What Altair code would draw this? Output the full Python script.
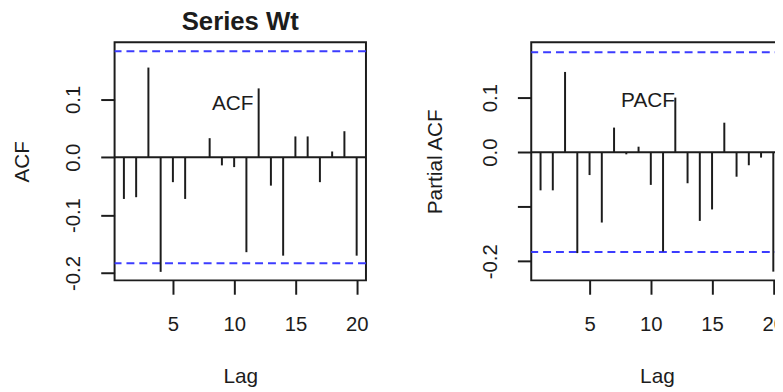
import altair as alt
import pandas as pd

# ---- data ----
lags = list(range(1, 21))
acf_vals = [-0.072, -0.069, 0.155, -0.198, -0.043, -0.072, 0.000, 0.033, -0.014, -0.017,
            -0.164, 0.119, -0.049, -0.170, 0.036, 0.036, -0.043, 0.010, 0.045, -0.170]
pacf_vals = [-0.070, -0.070, 0.147, -0.185, -0.042, -0.129, 0.045, -0.004, 0.010, -0.060,
             -0.182, 0.100, -0.057, -0.126, -0.105, 0.054, -0.045, -0.024, -0.010, -0.219]
ci_bound = 0.183
x_ticks = [5, 10, 15, 20]
y_ticks = [-0.2, -0.1, 0.0, 0.1]

FONT = "Liberation Sans"
INK = "#1c1c1c"
BLUE = "#3c3cff"
LW = 2


def panel(vals, ylab, note, note_x, note_y, ydom, title_x, hide_m01):
    bars_df = pd.DataFrame({"lag": lags, "val": vals, "base": [0.0] * len(lags)})
    zero_df = pd.DataFrame({"val": [0.0]})
    ci_df = pd.DataFrame({"val": [ci_bound, -ci_bound]})
    note_df = pd.DataFrame({"lag": [note_x], "val": [note_y], "label": [note]})

    xs = alt.Scale(domain=[0.24, 20.76], nice=False, zero=False)
    ys = alt.Scale(domain=ydom, nice=False, zero=False)

    fmt = "(datum.value < -1e-9 ? '-' : '') + format(abs(datum.value), '.1f')"
    if hide_m01:
        fmt = "abs(datum.value + 0.1) < 1e-6 ? '' : " + fmt

    xax = alt.Axis(values=x_ticks, title="Lag", labelPadding=21, labelFlush=False,
                   labelOverlap=False, titleBaseline="alphabetic", titleY=103)
    yax = alt.Axis(values=y_ticks, title=ylab, labelAngle=270, labelAlign="center",
                   labelBaseline="bottom", labelPadding=17, labelExpr=fmt,
                   labelOverlap=False, labelFlush=False,
                   titleAngle=270, titleBaseline="bottom", titleX=title_x)

    bars = alt.Chart(bars_df).mark_rule(color=INK, strokeWidth=LW).encode(
        x=alt.X("lag:Q", scale=xs, axis=xax),
        y=alt.Y("val:Q", scale=ys, axis=yax),
        y2="base:Q",
    )
    zero = alt.Chart(zero_df).mark_rule(color=INK, strokeWidth=LW).encode(
        y=alt.Y("val:Q")
    )
    ci = alt.Chart(ci_df).mark_rule(color=BLUE, strokeWidth=LW, strokeDash=[8, 5]).encode(
        y=alt.Y("val:Q")
    )
    txt = alt.Chart(note_df).mark_text(font=FONT, fontSize=21, color=INK, align="center",
                                       baseline="alphabetic").encode(
        x=alt.X("lag:Q"), y=alt.Y("val:Q"), text="label:N"
    )
    return alt.layer(ci, zero, bars, txt).properties(width=254, height=240.7)


left = panel(acf_vals, "ACF", "ACF", 9.88, 0.0814, [-0.2127, 0.1989], -83.3, False).properties(
    title=alt.TitleParams("Series Wt", font=FONT, fontSize=26, fontWeight="bold", color=INK,
                          anchor="middle", baseline="alphabetic", offset=-13.8)
)
right = panel(pacf_vals, "Partial ACF", "PACF", 9.77, 0.0824, [-0.235, 0.2016], -86.6, True)

chart = alt.hconcat(left, right, spacing=167, bounds="flush").properties(
    autosize=alt.AutoSizeParams(type="none"),
    padding={"left": 107.7, "top": 31.3, "right": 667.3, "bottom": 344.7},
    background="white",
).configure_view(
    stroke=INK, strokeWidth=LW
).configure_axis(
    labelFont=FONT, titleFont=FONT, labelFontSize=20.5, titleFontSize=21,
    labelColor=INK, titleColor=INK, tickColor=INK, tickWidth=LW, tickSize=14,
    domain=False, grid=False, titleFontWeight="normal"
)

chart.save("out.html", embed_options={"renderer": "svg", "actions": False})
